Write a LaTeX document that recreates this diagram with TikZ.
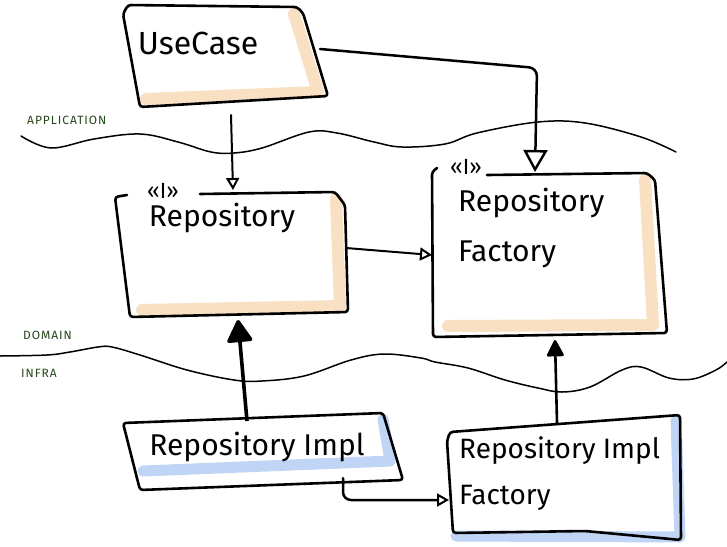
\documentclass[tikz,border=0pt]{standalone}
\usepackage{fontspec}
\setmainfont{Fira Sans}
\usetikzlibrary{arrows.meta}
\definecolor{peach}{RGB}{250,224,194}
\definecolor{bluesh}{RGB}{192,212,246}
\definecolor{lgreen}{RGB}{38,72,28}
\tikzset{
  boxline/.style={line width=2.6pt, line join=round, line cap=round, rounded corners=3pt},
  peachshade/.style={draw=peach, line width=12pt, line cap=round, line join=round},
  blueshade/.style={draw=bluesh, line width=11pt, line cap=round, line join=round},
  conn/.style={line width=2.5pt, line cap=round, rounded corners=8pt},
  hollowtip/.style={-{Triangle[open, length=12pt, width=13pt, line width=2pt]}},
  bighollowtip/.style={-{Triangle[open, length=22pt, width=24pt, line width=2.4pt]}},
  filledtip/.style={-{Triangle[length=24pt, width=27pt, round]}},
  smallfilledtip/.style={-{Triangle[length=18pt, width=18pt, round]}},
  layerline/.style={line width=1.5pt, line cap=round},
  layertxt/.style={text=lgreen, font=\fontsize{12}{12}\selectfont\addfontfeature{LetterSpace=8}, anchor=west, inner sep=0pt},
  boxtxt/.style={font=\fontsize{30}{50}\selectfont, align=left, inner sep=0pt},
  stereo/.style={font=\fontsize{22}{22}\selectfont, inner sep=0pt},
}
\begin{document}
\begin{tikzpicture}[x=1pt,y=-1pt]
\useasboundingbox (0,0) rectangle (727,546);
\fill[white] (0,0) rectangle (727,546);

% layer boundaries
\draw[layerline] plot[smooth, tension=0.6] coordinates {(21,136) (51,148) (94,139) (140,134) (178,142) (211,152) (234,153) (262,148) (309,132) (337,133) (374,142) (402,147) (445,144) (477,133) (538,122) (585,123) (641,137) (676,152)};
\draw[layerline] plot[smooth, tension=0.6] coordinates {(0,356) (47,355) (70,352) (98,347) (112,347) (140,355) (187,370) (234,380) (262,381) (304,376) (351,360) (384,354) (421,358) (435,362) (468,368) (505,380) (538,388) (562,392) (590,387) (622,370) (641,367) (669,378) (693,379) (716,370) (727,362)};

\node[layertxt] (lapp) at (27,120) {APPLICATION};
\node[layertxt] (ldom) at (23,335) {DOMAIN};
\node[layertxt] (linf) at (21,373) {INFRA};

% UseCase
\draw[peachshade] (294,14) -- (318,92) -- (146,99);
\draw[boxline] (128,5) -- (297,7) -- (303,13) -- (328,96) -- (140,107) -- (123,14) -- cycle;
\node[boxtxt, font=\fontsize{32}{40}\selectfont] (uc) at (198,43) {UseCase};

% Repository
\draw[peachshade] (336,199) -- (340,306) -- (142,310);
\draw[boxline] (200,194) -- (335,192) -- (345,205) -- (348,312) -- (130,317) -- (115,197) -- (127,195);
\node[stereo] (repst) at (163,191) {<<I>>};
\node[boxtxt] (rep) at (222,218) {Repository};

% Repository Factory
\draw[peachshade] (645,180) -- (653,325) -- (448,326);
\draw[boxline] (487,175) -- (647,173) -- (655,180) -- (667,333) -- (433,337) -- (432,172) -- (437,168);
\node[stereo] (rfst) at (466,167) {<<I>>};
\node[boxtxt, anchor=north west] (rf) at (458,188) {Repository\\Factory};

% Repository Impl
\draw[blueshade] (383,419) -- (390,461) -- (143,471);
\draw[boxline] (123,423) -- (383,413) -- (403,480) -- (140,490) -- cycle;
\node[boxtxt] (ri) at (257,447) {Repository Impl};

% Repository Impl Factory
\draw[blueshade] (676,420) -- (680,537) -- (456,536);
\draw[boxline] (450,432) -- (680,415) -- (681,540) -- (585,531) -- (453,533) -- (447,441) -- cycle;
\node[boxtxt, font=\fontsize{28}{46}\selectfont, anchor=north west] (rif) at (459,436) {Repository Impl\\Factory};

% connector anchors
\coordinate (ucB) at (231,115);
\coordinate (repT) at (233,190);
\coordinate (ucR) at (320,49);
\coordinate (ucBend) at (537,68);
\coordinate (rfT) at (535,172);
\coordinate (repR) at (346,248);
\coordinate (rfL) at (432,255);
\coordinate (riT) at (247,421);
\coordinate (repB) at (238,320);
\coordinate (rifT) at (557,423);
\coordinate (rfB) at (555,340);
\coordinate (riB) at (343,478);
\coordinate (riBend) at (343,500);
\coordinate (rifL) at (449,500);

% connectors
\draw[conn, line width=2pt, hollowtip] (ucB) -- (repT);
\draw[conn, bighollowtip] (ucR) -- (ucBend) -- (rfT);
\draw[conn, line width=2pt, hollowtip] (repR) -- (rfL);
\draw[line width=3.6pt, filledtip] (riT) -- (repB);
\draw[line width=2.6pt, smallfilledtip] (rifT) -- (rfB);
\draw[conn, hollowtip] (riB) -- (riBend) -- (rifL);
\end{tikzpicture}
\end{document}
